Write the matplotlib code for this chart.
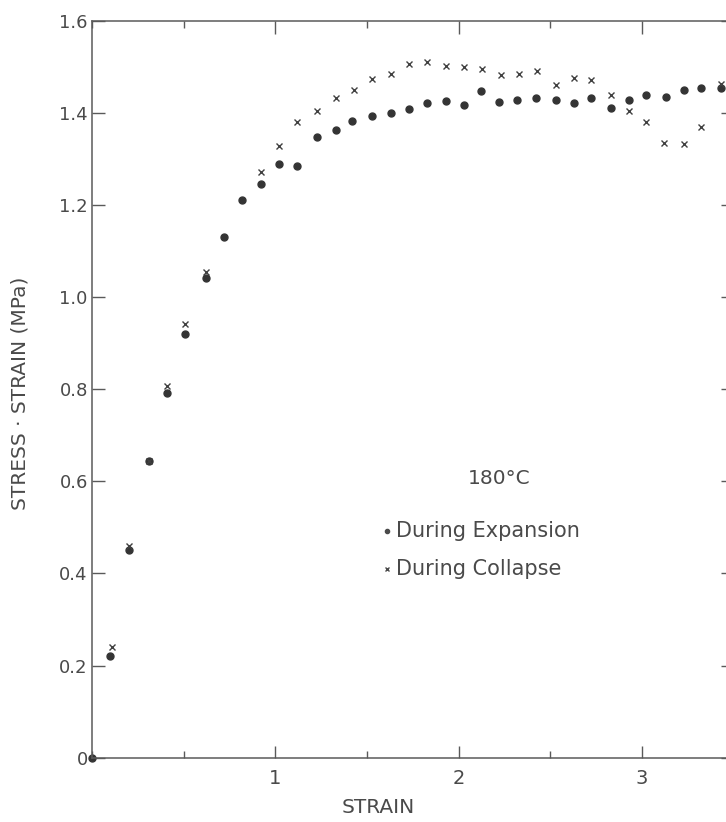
import matplotlib
matplotlib.use('Agg')
import matplotlib.pyplot as plt
from matplotlib.ticker import MultipleLocator, FixedLocator

# values (180 C run)
exp_strain = [0.0, 0.10, 0.20, 0.31, 0.41, 0.51, 0.62, 0.72, 0.82, 0.92,
              1.02, 1.12, 1.23, 1.33, 1.42, 1.53, 1.63, 1.73, 1.83, 1.93,
              2.03, 2.12, 2.22, 2.32, 2.42, 2.53, 2.63, 2.72, 2.83, 2.93,
              3.02, 3.13, 3.23, 3.32, 3.43]
exp_stress = [0.0, 0.22, 0.45, 0.643, 0.792, 0.919, 1.041, 1.131, 1.211, 1.245,
              1.288, 1.285, 1.347, 1.362, 1.383, 1.393, 1.400, 1.409, 1.422, 1.426,
              1.416, 1.447, 1.424, 1.427, 1.431, 1.428, 1.422, 1.432, 1.411, 1.427,
              1.439, 1.434, 1.449, 1.454, 1.454]

col_strain = [0.11, 0.20, 0.31, 0.41, 0.51, 0.62, 0.92,
              1.02, 1.12, 1.23, 1.33, 1.43, 1.53, 1.63, 1.73, 1.83, 1.93,
              2.03, 2.13, 2.23, 2.33, 2.43, 2.53, 2.63, 2.72, 2.83, 2.93,
              3.02, 3.12, 3.23, 3.32, 3.43]
col_stress = [0.24, 0.46, 0.645, 0.807, 0.941, 1.054, 1.272,
              1.328, 1.379, 1.404, 1.432, 1.450, 1.474, 1.485, 1.505, 1.510, 1.501,
              1.500, 1.494, 1.481, 1.485, 1.490, 1.461, 1.476, 1.470, 1.438, 1.403,
              1.379, 1.335, 1.333, 1.368, 1.463]

y_ticks = [0, 0.2, 0.4, 0.6, 0.8, 1.0, 1.2, 1.4, 1.6]
y_ticklabels = ['0', '0.2', '0.4', '0.6', '0.8', '1.0', '1.2', '1.4', '1.6']
x_ticks = [1, 2, 3]
x_ticklabels = ['1', '2', '3']

ink = '#4a4a4a'
line_col = '#5a5a5a'
plt.rcParams['font.family'] = ['DejaVu Sans']

fig = plt.figure(figsize=(7.26, 8.22), dpi=100)
# right spine sits just past the edge of the scan
ax = fig.add_axes([0.1267, 0.0782, 0.8774, 0.8968])

ax.plot(exp_strain, exp_stress, linestyle='', marker='o', markersize=5,
        color='#343434', clip_on=False)
ax.plot(col_strain, col_stress, linestyle='', marker='x', markersize=4.5,
        markeredgewidth=1.0, color='#404040')

ax.set_xlim(0, 3.475)
ax.set_ylim(0, 1.6)

ax.xaxis.set_major_locator(FixedLocator(x_ticks))
ax.xaxis.set_minor_locator(MultipleLocator(0.5))
ax.set_xticklabels(x_ticklabels)
ax.set_yticks(y_ticks)
ax.set_yticklabels(y_ticklabels)

ax.tick_params(axis='both', which='major', direction='in', length=9,
               width=1.0, color=line_col, labelcolor=ink, labelsize=13,
               top=True, right=True)
ax.tick_params(axis='x', which='minor', direction='in', length=5,
               width=1.0, color=line_col, top=True)
ax.tick_params(axis='x', which='major', pad=8, labelsize=14)
ax.tick_params(axis='y', which='major', pad=3)

# the ticks on the right belong to the next panel, only their stubs show
for t in ax.yaxis.get_major_ticks():
        t.tick2line.set_markersize(6)
        t.tick2line.set_color('#8a8a8a')

for side in ['left', 'bottom', 'top']:
        ax.spines[side].set_color(line_col)
        ax.spines[side].set_linewidth(1.1)
ax.spines['right'].set_visible(False)

ax.set_xlabel('STRAIN', fontsize=14.5, color=ink)
ax.xaxis.set_label_coords(0.45, -0.055)
ax.set_ylabel('STRESS · STRAIN (MPa)', fontsize=14.5, color=ink)
ax.yaxis.set_label_coords(-0.098, 0.495)

# hand-lettered key
ax.text(2.22, 0.605, '180°C', fontsize=14.5, color=ink, ha='center', va='center')
ax.plot([1.61], [0.492], linestyle='', marker='o', markersize=3, color=ink)
ax.text(1.66, 0.492, 'During Expansion', fontsize=15, color=ink, va='center')
ax.plot([1.61], [0.41], linestyle='', marker='x', markersize=3,
        markeredgewidth=1.0, color=ink)
ax.text(1.66, 0.41, 'During Collapse', fontsize=15, color=ink, va='center')

plt.savefig('out.png', dpi=100)
